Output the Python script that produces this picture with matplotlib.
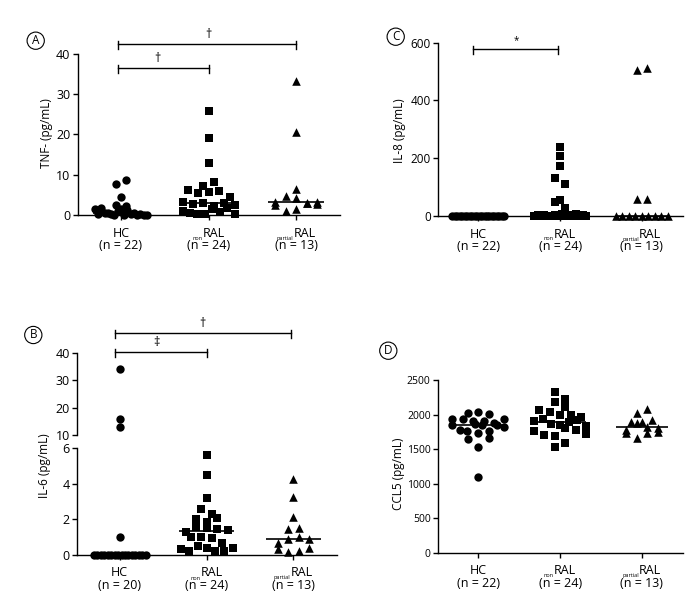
import numpy as np
import matplotlib
matplotlib.use("Agg")
import matplotlib.pyplot as plt
from matplotlib.transforms import blended_transform_factory

plt.rcParams['font.family'] = ['Open Sans', 'DejaVu Sans']

# ---------------- data ----------------
groups = ["HC", "RAL", "RAL"]
group_subs = ["", "non", "partial"]
n_tnf = [22, 24, 13]
n_il8 = [22, 24, 13]
n_il6 = [20, 24, 13]
n_ccl5 = [22, 24, 13]

tnf_hc = [1.4, 2.4, 0.3, 1.8, 0.5, 2.3, 0.4, 7.6, 4.4, 0.2, 0.0, 0.9, 1.6, 8.7, 0.1, 1.3, 0.3, 0.4, 0.1, 0.2, 0.0, 0.1]
tnf_non = [7.1, 3.3, 1.0, 6.1, 0.5, 2.7, 25.8, 19.0, 12.9, 8.2, 5.5, 3.0, 0.3, 2.2, 5.6, 2.9, 0.2, 1.5, 6.0, 4.4, 2.5, 0.8, 1.8, 0.3]
tnf_partial = [3.2, 2.5, 4.7, 4.1, 33.3, 20.6, 1.1, 3.0, 6.4, 1.4, 2.9, 2.8, 3.1]

il8_hc = [0.0, 0.0, 0.0, 0.0, 0.0, 0.0, 0.0, 0.0, 0.0, 0.0, 0.0, 0.0, 0.0, 0.0, 0.0, 0.0, 0.0, 0.0, 0.0, 0.0, 0.0, 0.0]
il8_non = [0.0, 55, 2, 0.0, 240, 208, 5, 172, 1, 133, 112, 0.0, 50, 3, 26, 0.0, 8, 0.0, 4, 0.0, 6, 0.0, 2, 0.0]
il8_partial = [0.0, 505, 0.0, 60, 0.0, 0.0, 512, 0.0, 58, 0.0, 0.0, 0.0, 0.0]

il6_hc = [0.0, 0.0, 0.0, 34.0, 0.0, 0.0, 13.0, 0.0, 0.0, 1.0, 0.0, 0.0, 15.8, 0.0, 0.0, 0.0, 0.0, 0.0, 0.0, 0.0]
il6_non = [0.35, 2.6, 1.3, 0.2, 5.6, 2.0, 1.0, 0.5, 4.5, 3.2, 2.3, 1.6, 1.0, 0.4, 0.2, 1.5, 1.85, 0.95, 0.7, 0.2, 1.45, 2.1, 1.4, 0.4]
il6_partial = [1.44, 0.69, 0.32, 0.9, 4.28, 3.24, 2.16, 1.5, 0.15, 1.03, 0.24, 0.9, 0.37]

ccl5_hc = [1935, 1849, 1935, 2018, 1776, 1646, 1911, 2032, 1737, 1526, 1100, 1900, 1880, 1766, 1935, 1870, 1845, 2008, 1656, 1766, 1842, 1820]
ccl5_non = [1900, 1760, 2065, 1930, 1705, 2320, 2185, 2030, 1870, 1695, 1535, 1850, 1990, 2225, 2105, 1885, 1920, 1800, 1780, 1595, 2000, 1960, 1830, 1720]
ccl5_partial = [1897, 1776, 1873, 2018, 1728, 1665, 1824, 1801, 2076, 1888, 1728, 1921, 1743]

# ---------------- figure ----------------
W, H = 695, 602
fig = plt.figure(figsize=(W / 100, H / 100), dpi=100)

FS = 9
PX = 0.72  # points per pixel


def add_ax(l, r, t, b):
    return fig.add_axes([l / W, 1 - b / H, (r - l) / W, (b - t) / H])


def style(ax, ylab_size=FS):
    ax.spines['top'].set_visible(False)
    ax.spines['right'].set_visible(False)
    for s in ('left', 'bottom'):
        ax.spines[s].set_linewidth(1.0)
    ax.tick_params(axis='both', direction='out', length=3.5, width=1.0,
                   labelsize=FS, pad=2)
    ax.tick_params(axis='y', labelsize=ylab_size)
    ax.set_xlim(-0.49, 2.5)
    ax.set_xticks([0, 1, 2])
    ax.set_xticklabels(["", "", ""])
    ax.set_facecolor('none')


def swarm_x(ax, xc, vals, step_px=10.5, maxhalf_px=26.0, row_px=7.5):
    vals = np.asarray(vals, float)
    pts = ax.transData.transform(np.column_stack([np.full(len(vals), xc), vals]))
    ypx = pts[:, 1]
    order = np.argsort(ypx, kind='stable')
    rows = []
    cur = [order[0]]
    start = ypx[order[0]]
    for idx in order[1:]:
        if ypx[idx] - start < row_px:
            cur.append(idx)
        else:
            rows.append(cur)
            cur = [idx]
            start = ypx[idx]
    rows.append(cur)
    off = np.zeros(len(vals))
    for row in rows:
        k = len(row)
        if k == 1:
            continue
        step = min(step_px, 2 * maxhalf_px / (k - 1))
        row = sorted(row)
        pos = (np.arange(k) - (k - 1) / 2) * step
        for j, idx in enumerate(row):
            off[idx] = pos[j]
    ppu = ax.transData.transform((1, 0))[0] - ax.transData.transform((0, 0))[0]
    return xc + off / ppu


markers = [('o', 36), ('s', 30), ('^', 38)]


def draw_groups(ax, data):
    for i, vals in enumerate(data):
        xs = swarm_x(ax, i, vals)
        m, s = markers[i]
        ax.scatter(xs, vals, marker=m, s=s, c='black', linewidths=0,
                   clip_on=False, zorder=3)
        med = np.median(vals)
        ax.plot([i - 0.32, i + 0.32], [med, med], color='black', lw=1.2,
                zorder=4, clip_on=False, solid_capstyle='butt')


def xlabels(ax, ns):
    fig.canvas.draw()
    r = fig.canvas.get_renderer()
    for i in range(3):
        main = groups[i]
        sub = group_subs[i]
        kw = dict(xy=(i, 0), xycoords=('data', 'axes fraction'),
                  textcoords='offset points', va='baseline')
        if sub:
            tm = ax.annotate(main, xytext=(0, -21.5 * PX), ha='left', fontsize=FS, **kw)
            ts = ax.annotate(sub, xytext=(0, -24.5 * PX), ha='right', fontsize=4, **kw)
            wm = tm.get_window_extent(r).width
            wsub = ts.get_window_extent(r).width
            dx = (wsub - wm) / 2 * PX
            tm.set_position((dx, -21.5 * PX))
            ts.set_position((dx, -24.5 * PX))
        else:
            ax.annotate(main, xytext=(0, -21.5 * PX), ha='center', fontsize=FS, **kw)
        ax.annotate("(n = %d)" % ns[i], xytext=(0, -34 * PX), ha='center',
                    fontsize=FS, **kw)


def sig_bar(ax, x0, x1, yfrac, sym, sx, hpx, sym_size=FS):
    tr = blended_transform_factory(ax.transData, ax.transAxes)
    ax.plot([x0, x1], [yfrac, yfrac], color='black', lw=1.0, transform=tr, clip_on=False)
    d_up = 3.0 / hpx
    d_dn = 5.0 / hpx
    for x in (x0, x1):
        ax.plot([x, x], [yfrac + d_up, yfrac - d_dn], color='black', lw=1.0,
                transform=tr, clip_on=False)
    ax.text(sx, yfrac + 3.0 / hpx, sym, transform=tr, ha='center', va='bottom',
            fontsize=sym_size)


def panel_letter(x, y, letter):
    fig.text(x / W, 1 - y / H, letter, ha='center', va='center', fontsize=8.5,
             bbox=dict(boxstyle='circle,pad=0.18', fc='white', ec='black', lw=0.8))


# ---------------- Panel A ----------------
axA = add_ax(78, 340, 53.7, 215)
style(axA)
axA.set_ylim(0, 40)
axA.set_yticks([0, 10, 20, 30, 40])
draw_groups(axA, [tnf_hc, tnf_non, tnf_partial])
axA.set_ylabel("TNF- (pg/mL)", fontsize=8.5, va='center')
axA.yaxis.set_label_coords(-0.119, 0.508)
sig_bar(axA, -0.03, 2.0, 1.060, "\u2020", 1.0, 161.3)
sig_bar(axA, -0.03, 1.0, 0.913, "\u2020", 0.42, 161.3)
panel_letter(35.7, 40.7, "A")

# ---------------- Panel C ----------------
axC = add_ax(438.3, 682.7, 42.7, 216)
style(axC, ylab_size=8.5)
axC.set_ylim(0, 600)
axC.set_yticks([0, 200, 400, 600])
draw_groups(axC, [il8_hc, il8_non, il8_partial])
axC.set_ylabel("IL-8 (pg/mL)", fontsize=8.5, va='center')
axC.yaxis.set_label_coords(-0.160, 0.492)
sig_bar(axC, -0.06, 0.98, 0.962, "*", 0.46, 173.3, sym_size=7)
panel_letter(395.7, 36.7, "C")

# ---------------- Panel B (broken axis) ----------------
K1, KG, K2 = 17.78, 3.33, 2.743
U6 = 6 * K1
U10 = U6 + 4 * KG


def fwd(y):
    y = np.asarray(y, float)
    return np.where(y <= 6, y * K1,
                    np.where(y <= 10, U6 + (y - 6) * KG, U10 + (y - 10) * K2))


def inv(u):
    u = np.asarray(u, float)
    return np.where(u <= U6, u / K1,
                    np.where(u <= U10, 6 + (u - U6) / KG, 10 + (u - U10) / K2))


axB = add_ax(77.3, 336.7, 352.7, 555)
style(axB)
axB.set_yscale('function', functions=(fwd, inv))
axB.set_ylim(0, 40)
axB.set_yticks([0, 2, 4, 6, 10, 20, 30, 40])
axB.set_yticklabels(["0", "2", "4", "6", "10", "20", "30", "40"])
axB.yaxis.set_minor_locator(matplotlib.ticker.NullLocator())
axB.spines['left'].set_visible(False)
trB = blended_transform_factory(axB.transAxes, axB.transData)
axB.plot([0, 0], [0, 6], color='black', lw=1.0, transform=trB, clip_on=False)
axB.plot([0, 0], [10, 40], color='black', lw=1.0, transform=trB, clip_on=False)
draw_groups(axB, [il6_hc, il6_non, il6_partial])
axB.set_ylabel("IL-6 (pg/mL)", fontsize=8.5, va='center')
axB.yaxis.set_label_coords(-0.128, 0.442)
sig_bar(axB, -0.06, 1.97, 1.096, "\u2020", 0.95, 202.3)
sig_bar(axB, -0.05, 1.0, 1.005, "\u2021", 0.42, 202.3)
panel_letter(33.3, 335, "B")

# ---------------- Panel D ----------------
axD = add_ax(438.3, 682.7, 380, 552.7)
style(axD, ylab_size=7.5)
axD.set_ylim(0, 2500)
axD.set_yticks([0, 500, 1000, 1500, 2000, 2500])
draw_groups(axD, [ccl5_hc, ccl5_non, ccl5_partial])
axD.set_ylabel("CCL5 (pg/mL)", fontsize=8.5, va='center')
axD.yaxis.set_label_coords(-0.163, 0.455)
panel_letter(388.3, 350.7, "D")

for ax, ns in ((axA, n_tnf), (axC, n_il8), (axB, n_il6), (axD, n_ccl5)):
    xlabels(ax, ns)

fig.savefig("out.png", dpi=100)
